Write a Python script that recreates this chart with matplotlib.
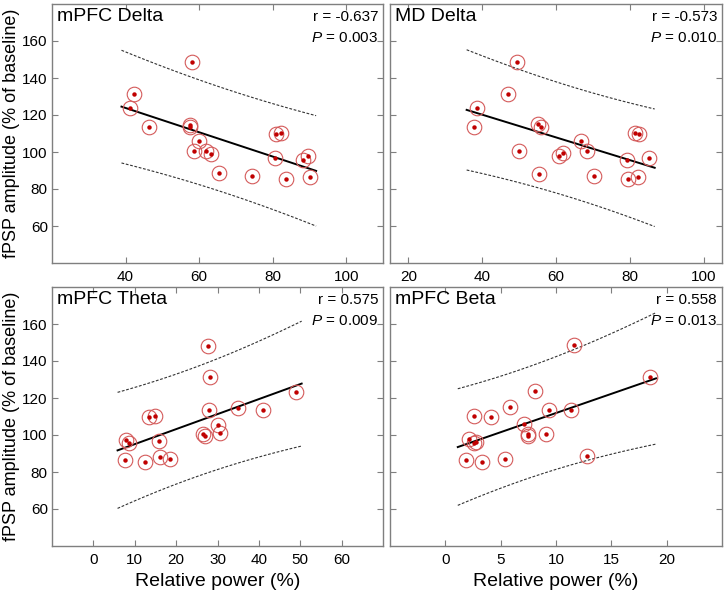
import numpy as np
import matplotlib
matplotlib.use("Agg")
import matplotlib.pyplot as plt

plt.rcParams['font.family'] = ['Liberation Sans', 'DejaVu Sans']
plt.rcParams['mathtext.fontset'] = 'custom'
plt.rcParams['mathtext.it'] = 'Liberation Sans:italic'
plt.rcParams['mathtext.rm'] = 'Liberation Sans'

# ---- data ----
titles = ["mPFC Delta", "MD Delta", "mPFC Theta", "mPFC Beta"]
r_texts = ["r = -0.637", "r = -0.573", "r = 0.575", "r = 0.558"]
p_texts = ["0.003", "0.010", "0.009", "0.013"]

x_mpfc_delta = [58.1, 42.4, 41.1, 46.5, 57.6, 57.6, 59.9, 58.7, 62.0, 63.3,
                65.4, 74.5, 81.0, 82.2, 80.5, 83.5, 88.2, 89.7, 90.1]
y_mpfc_delta = [148.6, 131.4, 123.8, 113.5, 114.7, 113.5, 105.7, 100.8, 100.4, 99.1,
                88.5, 87.2, 109.8, 110.4, 96.8, 85.2, 95.7, 97.9, 86.5]

x_md_delta = [49.5, 47.0, 38.7, 37.9, 55.0, 56.0, 49.9, 55.5, 60.7, 61.8,
              66.7, 68.5, 70.2, 81.4, 82.4, 79.3, 79.4, 82.1, 85.1]
y_md_delta = [148.6, 131.4, 123.6, 113.5, 114.9, 113.3, 100.4, 88.2, 97.7, 99.3,
              105.7, 100.8, 87.0, 110.5, 109.8, 95.7, 85.2, 86.5, 96.8]

x_mpfc_theta = [27.6, 28.3, 48.9, 34.9, 41.1, 27.9, 13.4, 14.9, 30.1, 30.7,
                26.5, 27.0, 7.8, 8.6, 15.9, 7.7, 12.4, 16.1, 18.6]
y_mpfc_theta = [148.3, 131.1, 123.4, 114.8, 113.3, 113.3, 109.9, 110.4, 105.6, 100.9,
                100.3, 99.2, 97.5, 95.5, 96.8, 86.5, 85.4, 88.3, 87.2]

x_mpfc_beta = [11.63, 18.46, 8.10, 5.82, 9.37, 11.38, 2.56, 4.16, 7.14, 7.47,
               7.50, 9.10, 2.17, 2.80, 2.59, 1.87, 3.32, 5.39, 12.80]
y_mpfc_beta = [148.4, 131.1, 123.6, 114.9, 113.5, 113.3, 110.4, 109.9, 105.7, 100.7,
               99.5, 100.5, 97.6, 96.4, 95.8, 86.6, 85.4, 87.2, 88.4]

xs = [x_mpfc_delta, x_md_delta, x_mpfc_theta, x_mpfc_beta]
ys = [y_mpfc_delta, y_md_delta, y_mpfc_theta, y_mpfc_beta]

xlims = [(20, 110), (15, 105), (-10, 70), (-5, 25)]
xticks = [[40, 60, 80, 100], [20, 40, 60, 80, 100],
          [0, 10, 20, 30, 40, 50, 60], [0, 5, 10, 15, 20]]
yticks = [60, 80, 100, 120, 140, 160]

# ---- figure ----
W, H = 726, 592
fig = plt.figure(figsize=(W / 100, H / 100), dpi=100)

boxes_px = [(52, 4, 383, 263), (390, 4, 722, 263),
            (52, 287, 383, 546), (390, 287, 722, 546)]

gray = '#7f7f7f'
dot_c = '#c00000'
ring_c = '#d45a5a'

for i in range(4):
    x0, y0, x1, y1 = boxes_px[i]
    ax = fig.add_axes([x0 / W, 1 - y1 / H, (x1 - x0) / W, (y1 - y0) / H])
    x = np.array(xs[i])
    y = np.array(ys[i])

    # regression + 95% prediction band
    n = len(x)
    b, a = np.polyfit(x, y, 1)
    rng = x.max() - x.min()
    xx = np.linspace(x.min() - 0.045 * rng, x.max() + 0.035 * rng, 100)
    yy = a + b * xx
    resid = y - (a + b * x)
    s = np.sqrt(np.sum(resid ** 2) / (n - 2))
    sxx = np.sum((x - x.mean()) ** 2)
    t = 2.11
    hw = t * s * np.sqrt(1 + 1 / n + (xx - x.mean()) ** 2 / sxx)
    ax.plot(xx, yy + hw, color='#333333', lw=0.8, ls=(0, (2.5, 1.5)))
    ax.plot(xx, yy - hw, color='#333333', lw=0.8, ls=(0, (2.5, 1.5)))
    ax.plot(xx, yy, color='black', lw=1.4)

    ax.plot(x, y, 'o', ms=10.5, mfc='none', mec=ring_c, mew=0.8)
    ax.plot(x, y, 'o', ms=3.2, mfc=dot_c, mec=dot_c, mew=0)

    ax.set_xlim(*xlims[i])
    ax.set_ylim(40, 180)
    ax.set_xticks(xticks[i])
    ax.set_yticks(yticks)
    ax.tick_params(direction='in', top=True, right=True, length=4,
                   color=gray, labelsize=11, width=0.8)
    ax.tick_params(axis='y', pad=3)
    ax.tick_params(axis='x', pad=5)
    if i % 2 == 1:
        ax.tick_params(labelleft=False)
    for sp in ax.spines.values():
        sp.set_color(gray)
        sp.set_linewidth(1.0)

    ax.text(0.015, 0.985, titles[i], transform=ax.transAxes, ha='left', va='top',
            fontsize=14)
    ax.text(0.985, 0.975, r_texts[i], transform=ax.transAxes, ha='right', va='top',
            fontsize=11)
    ax.text(0.985, 0.895, r'$P$ = ' + p_texts[i], transform=ax.transAxes,
            ha='right', va='top', fontsize=11)

    if i >= 2:
        ax.set_xlabel("Relative power (%)", fontsize=14, labelpad=4)
    if i % 2 == 0:
        ax.set_ylabel("fPSP amplitude (% of baseline)", fontsize=13)
        ax.yaxis.set_label_coords(-0.097, 0.5)

fig.savefig("out.png", dpi=100)
